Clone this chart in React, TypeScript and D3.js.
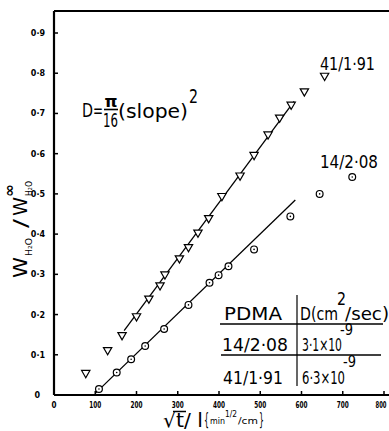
import * as d3 from "d3";

// PDMA 41/1.91 (triangles)
const triX = [77, 130, 165, 200, 230, 257, 269, 304, 326, 349, 375, 407, 451, 485, 519, 547, 575, 607, 656];
const triY = [0.055, 0.112, 0.149, 0.196, 0.24, 0.273, 0.3, 0.34, 0.368, 0.404, 0.44, 0.495, 0.546, 0.597, 0.648, 0.69, 0.722, 0.755, 0.794];
// PDMA 14/2.08 (circles)
const circX = [109, 152, 187, 221, 267, 326, 377, 399, 423, 485, 573, 644, 723];
const circY = [0.015, 0.056, 0.089, 0.122, 0.164, 0.224, 0.279, 0.298, 0.32, 0.362, 0.444, 0.5, 0.542];
// fitted lines (x, y end points)
const triFitX = [170, 582];
const triFitY = [0.16, 0.73];
const circFitX = [100, 585];
const circFitY = [0.004, 0.485];

const xTicks = [0, 100, 200, 300, 400, 500, 600, 700, 800];
const yTicks = [0, 0.1, 0.2, 0.3, 0.4, 0.5, 0.6, 0.7, 0.8, 0.9];

const W = 389;
const H = 431;
const font = "'DejaVu Sans', sans-serif";

export default function App() {
  const x = d3.scaleLinear().domain([0, 800]).range([54, 384]);
  const y = d3.scaleLinear().domain([0, 0.9]).range([395, 33]);

  const line = d3
    .line<[number, number]>()
    .x((d) => x(d[0]))
    .y((d) => y(d[1]));

  const triPath = d3.symbol().type(d3.symbolTriangle).size(30)();
  const fmt = (v: number) => (v === 0 ? "0" : v.toFixed(1).replace(".", "·"));
  const fit = { lengthAdjust: "spacingAndGlyphs" as const };

  return (
    <div style={{ position: "absolute", left: 0, top: 0 }}>
      <svg width={W} height={H} style={{ display: "block", background: "#fff" }} fontFamily={font}>
        {/* frame */}
        <line x1={x(0)} x2={W} y1={11} y2={11} stroke="#000" strokeWidth={2} />
        <line x1={x(0)} x2={x(0)} y1={11} y2={y(0)} stroke="#000" strokeWidth={2.2} />
        <line x1={x(0)} x2={W} y1={y(0)} y2={y(0)} stroke="#000" strokeWidth={2.2} />

        {/* y ticks */}
        {yTicks.map((t) => (
          <g key={"y" + t}>
            <line x1={x(0)} x2={x(0) + 4} y1={y(t)} y2={y(t)} stroke="#000" strokeWidth={1.5} />
            <text x={t === 0 ? 40 : 45} y={y(t) + 3} fontSize={8} fontWeight="bold" textAnchor="end">
              {fmt(t)}
            </text>
          </g>
        ))}
        {/* x ticks */}
        {xTicks.map((t) => (
          <g key={"x" + t}>
            <line x1={x(t)} x2={x(t)} y1={y(0)} y2={y(0) - 4} stroke="#000" strokeWidth={1.5} />
            <text
              x={t === 800 ? 381 : x(t)}
              y={408}
              fontSize={8}
              fontWeight="bold"
              textAnchor="middle"
              textLength={t === 0 ? 5 : t === 800 ? 11 : 12}
              {...fit}
            >
              {t}
            </text>
          </g>
        ))}

        {/* fit lines */}
        <path d={line(d3.zip(triFitX, triFitY) as [number, number][]) || ""} stroke="#000" strokeWidth={1.3} fill="none" />
        <path d={line(d3.zip(circFitX, circFitY) as [number, number][]) || ""} stroke="#000" strokeWidth={1.3} fill="none" />

        {/* triangles (pointing down) */}
        {triX.map((v, i) => (
          <path
            key={"t" + i}
            d={triPath || ""}
            transform={`translate(${x(v)},${y(triY[i])}) rotate(180)`}
            fill="#fff"
            stroke="#000"
            strokeWidth={1.2}
          />
        ))}
        {/* circles */}
        {circX.map((v, i) => (
          <g key={"c" + i} transform={`translate(${x(v)},${y(circY[i])})`}>
            <circle r={3.4} fill="#fff" stroke="#000" strokeWidth={1.2} />
            <circle r={0.8} fill="#000" />
          </g>
        ))}

        {/* series labels */}
        <text x={320} y={70} fontSize={17} textLength={55} {...fit}>41/1·91</text>
        <text x={320} y={168} fontSize={17} textLength={58} {...fit}>14/2·08</text>

        {/* equation */}
        <text x={82} y={117} fontSize={20} textLength={11} {...fit}>D</text>
        <text x={93} y={117} fontSize={20} textLength={10} {...fit}>=</text>
        <text x={104.5} y={107} fontSize={15} fontWeight="bold" textLength={13} {...fit}>π</text>
        <line x1={104} x2={118} y1={109.5} y2={109.5} stroke="#000" strokeWidth={1.6} />
        <text x={103} y={127} fontSize={20} textLength={15} {...fit}>16</text>
        <text x={118} y={118} fontSize={20} textLength={70} {...fit}>(slope)</text>
        <text x={189} y={103} fontSize={19} textLength={9} {...fit}>2</text>

        {/* table */}
        <g fontSize={18}>
          <text x={224} y={320} textLength={58} {...fit}>PDMA</text>
          <text x={300} y={320} textLength={38} {...fit}>D(cm</text>
          <text x={337} y={305} fontSize={17} textLength={9} {...fit}>2</text>
          <text x={345} y={320} textLength={44} {...fit}>/sec)</text>
          <line x1={220} x2={383} y1={324} y2={324} stroke="#000" strokeWidth={1.4} />
          <line x1={221} x2={381} y1={355} y2={355} stroke="#000" strokeWidth={1.4} />
          <line x1={297} x2={297} y1={295} y2={386} stroke="#000" strokeWidth={1.2} />
          <text x={222} y={351} textLength={66} {...fit}>14/2·08</text>
          <text x={302} y={351} textLength={40} {...fit}>3·1×10</text>
          <text x={340} y={335} fontSize={16} textLength={13} {...fit}>-9</text>
          <text x={223} y={384} textLength={60} {...fit}>41/1·91</text>
          <text x={302} y={384} textLength={43} {...fit}>6·3×10</text>
          <text x={343} y={367} fontSize={16} textLength={13} {...fit}>-9</text>
        </g>

        {/* x axis label */}
        <text x={163} y={427} fontSize={20} textLength={40} {...fit}>
          √t/ l
        </text>
        <line x1={173} x2={186} y1={411.5} y2={411.5} stroke="#000" strokeWidth={1.5} />
        <text x={204} y={426} fontSize={17} textLength={5} {...fit}>{"{"}</text>
        <text x={210} y={424} fontSize={9} textLength={15} {...fit}>min</text>
        <text x={225} y={417} fontSize={8} textLength={12} {...fit}>1/2</text>
        <text x={238} y={424} fontSize={9} textLength={20} {...fit}>/cm</text>
        <text x={259} y={426} fontSize={17} textLength={5} {...fit}>{"}"}</text>

        {/* y axis label */}
        <g transform="translate(27,278) rotate(-90)">
          <text x={0} y={0} fontSize={20} textLength={21} {...fit}>W</text>
          <text x={22} y={5} fontSize={9} textLength={18} {...fit}>H₂O</text>
          <text x={50} y={0} fontSize={20} textLength={9} {...fit}>/</text>
          <text x={62} y={0} fontSize={20} textLength={19} {...fit}>W</text>
          <text x={82} y={5} fontSize={9} textLength={15} {...fit}>H₂O</text>
          <text x={81} y={-13} fontSize={14} fontWeight="bold" textLength={13} {...fit}>∞</text>
        </g>
      </svg>
    </div>
  );
}
